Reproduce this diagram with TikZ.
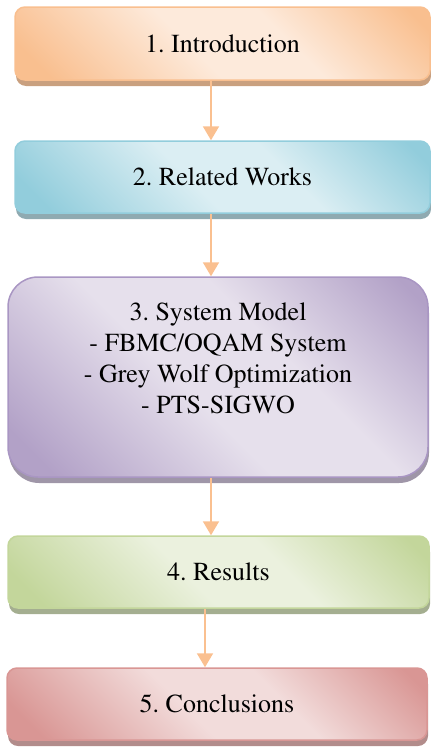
\documentclass[tikz,border=0pt]{standalone}
\usepackage[T1]{fontenc}
\usepackage{mathptmx}
\usetikzlibrary{arrows.meta,shadows}
\definecolor{ordk}{HTML}{F9BF8F}\definecolor{orlt}{HTML}{FDEADB}\definecolor{orsh}{HTML}{C9A07F}
\definecolor{bldk}{HTML}{92CDDC}\definecolor{bllt}{HTML}{DBEEF3}\definecolor{blsh}{HTML}{8FAAB1}
\definecolor{pudk}{HTML}{B2A1C7}\definecolor{pult}{HTML}{E6E0EC}\definecolor{push}{HTML}{9F96A8}\definecolor{pubd}{HTML}{A996C3}
\definecolor{grdk}{HTML}{C3D69B}\definecolor{grlt}{HTML}{EBF1DE}\definecolor{grsh}{HTML}{A4AE90}
\definecolor{rddk}{HTML}{D99694}\definecolor{rdlt}{HTML}{F2DCDB}\definecolor{rdsh}{HTML}{B28C8B}
\definecolor{arrcol}{HTML}{FAC090}
\pgfdeclarehorizontalshading{shor}{100bp}{color(0bp)=(ordk); color(20bp)=(ordk); color(45bp)=(orlt); color(60bp)=(orlt); color(82bp)=(ordk); color(100bp)=(ordk)}
\pgfdeclarehorizontalshading{shbl}{100bp}{color(0bp)=(bldk); color(20bp)=(bldk); color(45bp)=(bllt); color(60bp)=(bllt); color(82bp)=(bldk); color(100bp)=(bldk)}
\pgfdeclarehorizontalshading{shpu}{100bp}{color(0bp)=(pudk); color(20bp)=(pudk); color(45bp)=(pult); color(60bp)=(pult); color(82bp)=(pudk); color(100bp)=(pudk)}
\pgfdeclarehorizontalshading{shgr}{100bp}{color(0bp)=(grdk); color(20bp)=(grdk); color(45bp)=(grlt); color(60bp)=(grlt); color(82bp)=(grdk); color(100bp)=(grdk)}
\pgfdeclarehorizontalshading{shrd}{100bp}{color(0bp)=(rddk); color(20bp)=(rddk); color(45bp)=(rdlt); color(60bp)=(rdlt); color(82bp)=(rddk); color(100bp)=(rddk)}
\tikzset{
  box/.style={rectangle, rounded corners=10pt, line width=1.5pt, shade, shading angle=45,
    inner sep=0pt, align=center, font=\fontsize{26}{31}\selectfont},
  shad/.style={drop shadow={shadow xshift=1pt, shadow yshift=-6pt, fill=#1, opacity=1}},
  arr/.style={draw=arrcol, line width=2pt, -{Triangle[width=16pt,length=14pt]}},
  lbl/.style={align=center, inner sep=0pt, font=\fontsize{26}{31}\selectfont}
}
\begin{document}
\frenchspacing
\begin{tikzpicture}[x=1pt,y=1pt]
\useasboundingbox (0,0) rectangle (431,-747);
\node[box, shading=shor, draw=ordk, shad=orsh, minimum width=415pt, minimum height=73pt] (b1) at (222.5,-43.5) {1. Introduction};
\node[box, shading=shbl, draw=bldk, shad=blsh, minimum width=415pt, minimum height=72pt] (b2) at (222.5,-177) {2. Related Works};
\node[box, rounded corners=30pt, shading=shpu, draw=pubd, shad=push, minimum width=420pt, minimum height=200pt] (b3) at (218,-377) {};
\node[lbl] (t3) at (218,-358) {3. System Model\\- FBMC/OQAM System\\- Grey Wolf Optimization\\- PTS-SIGWO};
\node[box, shading=shgr, draw=grdk, shad=grsh, minimum width=421pt, minimum height=72pt] (b4) at (218.5,-572) {4. Results};
\node[box, shading=shrd, draw=rddk, shad=rdsh, minimum width=420pt, minimum height=72pt] (b5) at (217,-704) {5. Conclusions};
\coordinate (ca) at (211,0);
\coordinate (cb) at (205,0);
\draw[arr] (b1.south -| ca) -- (b2.north -| ca);
\draw[arr] (b2.south -| ca) -- (b3.north -| ca);
\draw[arr] (b3.south -| ca) -- (b4.north -| ca);
\draw[arr] (b4.south -| cb) -- (b5.north -| cb);
\end{tikzpicture}
\end{document}
